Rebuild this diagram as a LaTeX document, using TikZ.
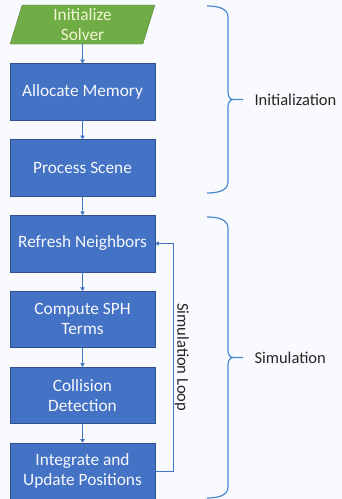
\documentclass[tikz,border=0pt]{standalone}
\usepackage{fontspec}
\setmainfont{Carlito}
\usetikzlibrary{positioning, arrows.meta, shapes.geometric}
\definecolor{boxblue}{HTML}{4472C4}
\definecolor{boxedge}{HTML}{2F528F}
\definecolor{startgreen}{HTML}{70AD47}
\definecolor{startedge}{HTML}{507E32}
\definecolor{starttext}{HTML}{F0F6D2}
\definecolor{bracecol}{HTML}{4A88D0}
\definecolor{pagebg}{HTML}{F9FAFD}

\begin{document}
\begin{tikzpicture}[
  x=1pt, y=1pt,
  node distance=19pt,
  stage/.style={draw=boxedge, fill=boxblue, text=white!95!boxblue, align=center,
                minimum width=145pt, minimum height=56.5pt, inner sep=2pt,
                font=\fontsize{17.3}{20}\selectfont},
  start/.style={trapezium, trapezium left angle=80, trapezium right angle=100,
                trapezium stretches=true, draw=startedge, fill=startgreen,
                text=starttext, align=center, minimum width=145pt,
                minimum height=39pt, inner sep=1pt,
                font=\fontsize{17.3}{20}\selectfont},
  arr/.style={-{Triangle[length=3.5pt, width=4.5pt]}, draw=boxblue, line width=0.9pt},
  brc/.style={draw=bracecol, line width=1.2pt},
  tag/.style={anchor=west, text=black!85, font=\fontsize{16.5}{20}\selectfont}
]
\fill[pagebg] (0,0) rectangle (342,-499);
\useasboundingbox (0,0) rectangle (342,-499);

% flow chart
\node[start] (init) at (82.5,-24.5) {Initialize\\Solver};
\node[stage, below=of init] (alloc) {Allocate Memory};
\node[stage, below=of alloc] (scene) {Process Scene};
\node[stage, below=of scene] (refresh) {Refresh Neighbors};
\node[stage, below=of refresh] (sph) {Compute SPH\\Terms};
\node[stage, below=of sph] (collide) {Collision\\Detection};
\node[stage, below=of collide] (integ) {Integrate and\\Update Positions};

\draw[arr] (init) -- (alloc);
\draw[arr] (alloc) -- (scene);
\draw[arr] (scene) -- (refresh);
\draw[arr] (refresh) -- (sph);
\draw[arr] (sph) -- (collide);
\draw[arr] (collide) -- (integ);

% loop back to the neighbour search
\draw[arr] (integ.east) -- ++(18,0) |- node[pos=0.25, rotate=-90, anchor=south,
  inner sep=1pt, text=black!85, font=\fontsize{16.5}{20}\selectfont] {Simulation Loop}
  (refresh.east);

% phase braces
\draw[brc] (207,-6) to[out=0, in=90] (228,-17) -- (228,-92)
  to[out=-90, in=180] (233,-99.5) -- (243,-99.5)
  (233,-99.5) to[out=180, in=90] (228,-107) -- (228,-182)
  to[out=-90, in=0] (207,-193);
\node[tag] (initlbl) at (251,-99.5) {Initialization};

\draw[brc] (207,-217) to[out=0, in=90] (228,-228) -- (228,-350)
  to[out=-90, in=180] (233,-357.5) -- (243,-357.5)
  (233,-357.5) to[out=180, in=90] (228,-365) -- (228,-487)
  to[out=-90, in=0] (207,-498);
\node[tag] (simlbl) at (251,-357.5) {Simulation};
\end{tikzpicture}
\end{document}
